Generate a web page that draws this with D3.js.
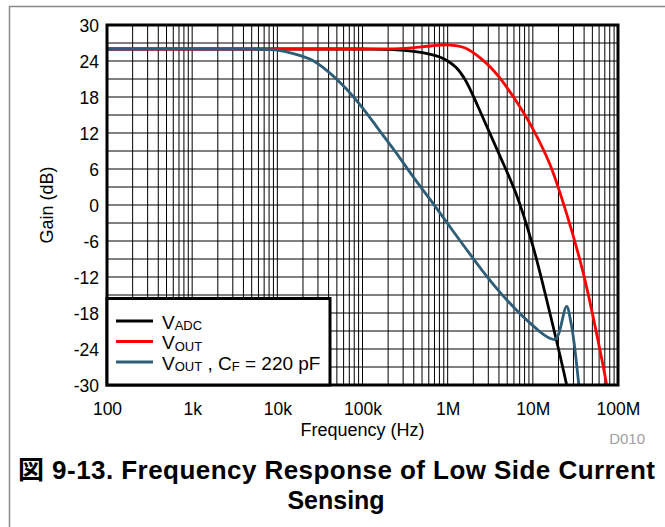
<!DOCTYPE html>
<html><head><meta charset="utf-8">
<script src="https://cdn.jsdelivr.net/npm/d3@7"></script>
<style>
html,body{margin:0;padding:0;background:#fff;}
svg{display:block;font-family:"Liberation Sans",Arial,"Noto Sans CJK JP",sans-serif;}
</style></head>
<body>
<script>
// ---- data ----
const xTickValues = [1e2, 1e3, 1e4, 1e5, 1e6, 1e7, 1e8];
const xTickLabels = ["100", "1k", "10k", "100k", "1M", "10M", "100M"];
const yTickValues = [30, 24, 18, 12, 6, 0, -6, -12, -18, -24, -30];

const vadcFreq = [1e2, 1e4, 1e5, 2.29e5, 3.98e5, 6.31e5, 7.943e5, 1e6, 1.259e6, 1.585e6, 1.995e6, 2.512e6, 3.981e6, 6.31e6, 1e7, 1.585e7, 2.512e7, 2.818e7];
const vadcGain = [26, 26, 26, 25.9, 25.6, 25.1, 24.7, 24.0, 22.9, 21.0, 18.2, 15.0, 8.6, 2.0, -6.8, -18.0, -30.2, -34];

const voutFreq = [1e2, 1e4, 1e5, 3.16e5, 6.31e5, 1e6, 1.585e6, 2.512e6, 3.981e6, 6.31e6, 1e7, 1.585e7, 2.512e7, 3.981e7, 6.31e7, 7.36e7, 8.0e7];
const voutGain = [26, 26, 26, 26.1, 26.5, 26.7, 26.2, 24.3, 21.4, 17.4, 12.7, 6.8, -1.6, -11.8, -25.0, -30, -33];

const vcfFreq = [1e2, 3.16e3, 6.31e3, 1e4, 1.585e4, 2.512e4, 3.981e4, 6.31e4, 1e5, 1.585e5, 2.512e5, 3.981e5, 6.31e5, 1e6, 1.585e6, 2.512e6, 3.981e6, 6.31e6, 1e7, 1.259e7, 1.585e7, 1.82e7, 1.995e7, 2.495e7, 2.818e7, 3.02e7, 3.236e7, 3.467e7, 3.715e7];
const vcfGain = [26, 26, 25.95, 25.8, 25.2, 24.2, 22.2, 19.5, 16.2, 12.4, 8.6, 4.6, 0.8, -3.1, -7.0, -10.8, -14.3, -17.4, -20.1, -21.3, -22.2, -22.4, -21.6, -16.9, -19.8, -22.5, -26, -30, -34];

const seriesNames = ["ADC", "OUT", "OUT"];
const seriesColors = ["#000000", "#ff0000", "#2e5d78"];

// ---- layout ----
const W = 665, H = 527;
const L = 107, R = 618, T = 25, B = 385;

const svg = d3.select("body").append("svg").attr("width", W).attr("height", H);

// outer frame
svg.append("path").attr("d", `M9.5,${H+5} L9.5,6.5 L${W+5},6.5`)
  .attr("fill", "none").attr("stroke", "#8a8a8a").attr("stroke-width", 1.5);

const x = d3.scaleLog().domain([1e2, 1e8]).range([L, R]);
const y = d3.scaleLinear().domain([-30, 30]).range([B, T]);

// grid
const g = svg.append("g");
const minor = [];
for (let d = 2; d < 8; d++) for (let m = 1; m <= 9; m++) minor.push(m * Math.pow(10, d));
minor.push(1e8);
g.selectAll("line.v").data(minor).enter().append("line")
  .attr("x1", d => x(d)).attr("x2", d => x(d)).attr("y1", T).attr("y2", B)
  .attr("stroke", "#000").attr("stroke-width", 1);
const hgrid = d3.range(-27, 30, 3);
g.selectAll("line.h").data(hgrid).enter().append("line")
  .attr("x1", L).attr("x2", R).attr("y1", d => y(d)).attr("y2", d => y(d))
  .attr("stroke", "#000").attr("stroke-width", 1);

// clip
svg.append("clipPath").attr("id", "clip").append("rect")
  .attr("x", L).attr("y", T).attr("width", R - L).attr("height", B - T);

const line = d3.line().x(d => x(d[0])).y(d => y(d[1])).curve(d3.curveCatmullRom.alpha(0.5));
const series = [
  d3.zip(vadcFreq, vadcGain),
  d3.zip(voutFreq, voutGain),
  d3.zip(vcfFreq, vcfGain)
];
const cg = svg.append("g").attr("clip-path", "url(#clip)");
series.forEach((s, i) => {
  cg.append("path").attr("d", line(s)).attr("fill", "none")
    .attr("stroke", seriesColors[i]).attr("stroke-width", 2.8)
    .attr("stroke-linejoin", "round");
});

// plot border
svg.append("rect").attr("x", L).attr("y", T).attr("width", R - L).attr("height", B - T)
  .attr("fill", "none").attr("stroke", "#000").attr("stroke-width", 3);

// axes
const xAxis = d3.axisBottom(x).tickValues(xTickValues).tickFormat((d, i) => xTickLabels[i]).tickSize(0).tickPadding(0);
const xa = svg.append("g").attr("transform", `translate(0,${B})`).call(xAxis);
xa.select(".domain").remove();
xa.selectAll("text").attr("font-size", 17.5).attr("fill", "#000").attr("font-family", "Liberation Sans, Arial")
  .attr("y", 30).attr("dy", null);

const yAxis = d3.axisLeft(y).tickValues(yTickValues).tickFormat(d => String(d)).tickSize(0).tickPadding(8);
const ya = svg.append("g").attr("transform", `translate(${L},0)`).call(yAxis);
ya.select(".domain").remove();
ya.selectAll("text").attr("font-size", 17.5).attr("fill", "#000").attr("font-family", "Liberation Sans, Arial")
  .attr("dy", "0.36em");

// axis titles
svg.append("text").attr("x", (L + R) / 2).attr("y", 436).attr("text-anchor", "middle")
  .attr("font-size", 18).text("Frequency (Hz)");
svg.append("text").attr("transform", `translate(53,${(T + B) / 2}) rotate(-90)`)
  .attr("text-anchor", "middle").attr("font-size", 18).text("Gain (dB)");
svg.append("text").attr("x", 645).attr("y", 444).attr("text-anchor", "end")
  .attr("font-size", 15).attr("fill", "#a0a0a0").text("D010");

// legend
const lg = svg.append("g");
lg.append("rect").attr("x", L).attr("y", 298.5).attr("width", 330 - L).attr("height", B - 298.5)
  .attr("fill", "#fff").attr("stroke", "#000").attr("stroke-width", 3);
const rowsY = [321, 341.5, 362];
const baseY = [328.5, 349, 369.5];
rowsY.forEach((ry, i) => {
  lg.append("line").attr("x1", 116).attr("x2", 153).attr("y1", ry).attr("y2", ry)
    .attr("stroke", seriesColors[i]).attr("stroke-width", 3);
  const t = lg.append("text").attr("x", 162).attr("y", baseY[i]).attr("font-size", 19);
  t.append("tspan").text("V");
  t.append("tspan").attr("font-size", 13).attr("dy", 1.5).text(seriesNames[i]);
  if (i === 2) {
    t.append("tspan").attr("dy", -1.5).text(" , C");
    t.append("tspan").attr("font-size", 13).attr("dy", 1.5).text("F");
    t.append("tspan").attr("dy", -1.5).text(" = 220 pF");
  }
});

// caption
svg.append("text").attr("x", 336.5).attr("y", 479).attr("text-anchor", "middle")
  .attr("font-size", 26).attr("font-weight", "bold")
  .attr("textLength", 637).attr("lengthAdjust", "spacing")
  .text("図 9-13. Frequency Response of Low Side Current");
svg.append("text").attr("x", 336).attr("y", 509).attr("text-anchor", "middle")
  .attr("font-size", 25).attr("font-weight", "bold").text("Sensing");
</script>
</body></html>
